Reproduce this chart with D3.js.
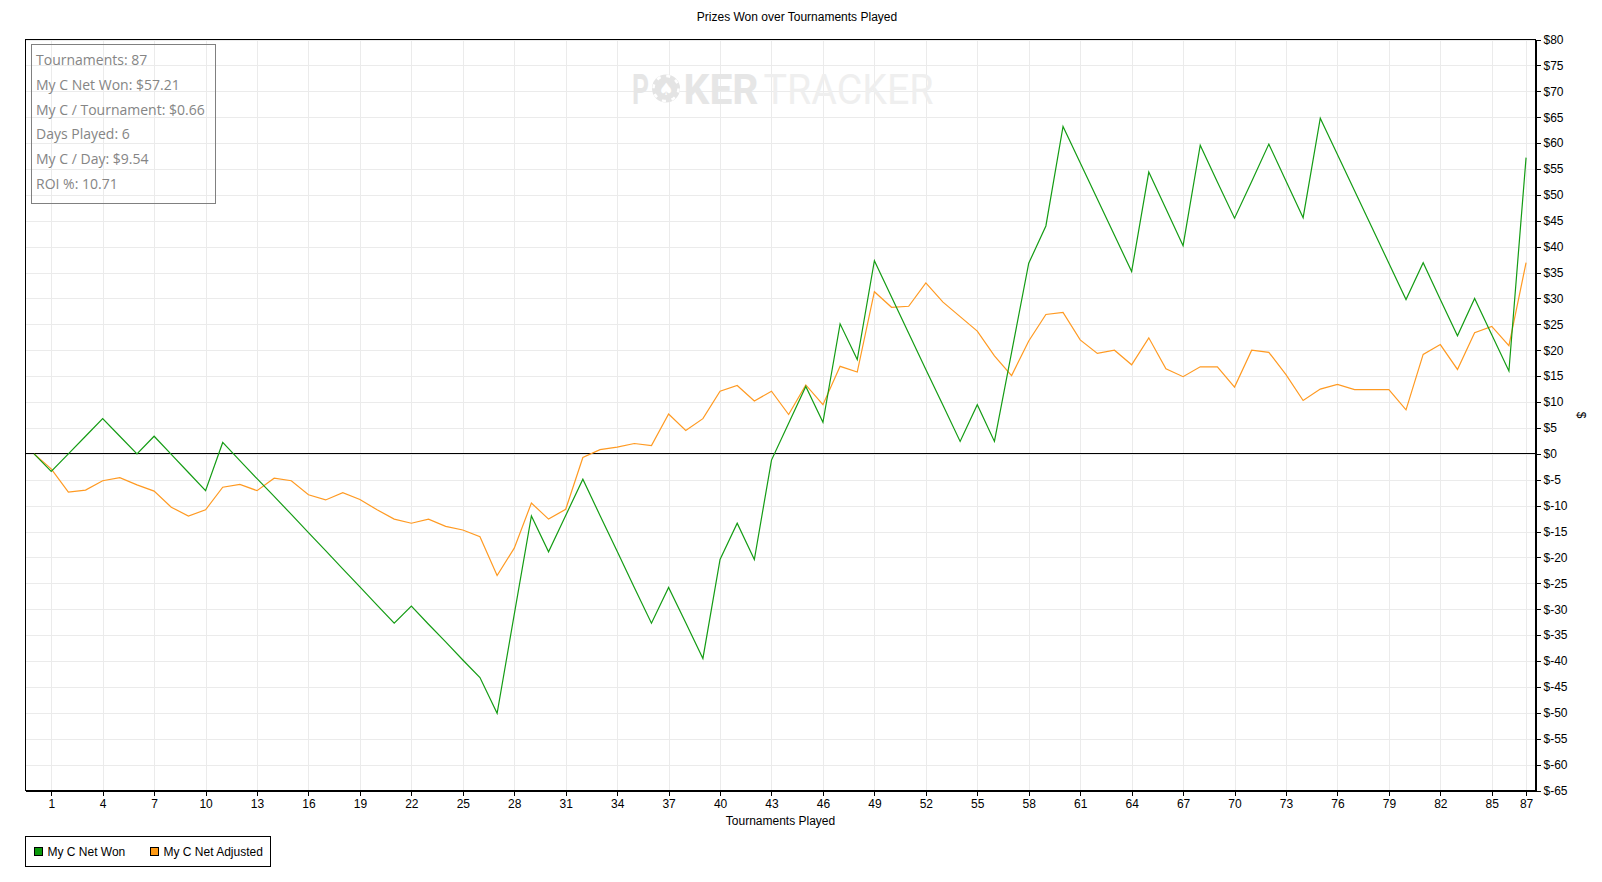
<!DOCTYPE html>
<html>
<head>
<meta charset="utf-8">
<script src="https://cdn.jsdelivr.net/npm/d3@7"></script>
<style>
  body { margin: 0; background: #fff; }
  svg { display: block; }
  .axis text { font-family: "Liberation Sans", Arial, sans-serif; font-size: 12px; fill: #000; }
  .axis path, .axis line { stroke: #000; shape-rendering: crispEdges; }
  .grid line { stroke: #ebebeb; shape-rendering: crispEdges; }
  .grid path { display: none; }
</style>
</head>
<body>
<div id="chart"></div>
<script>
// tournament index = position in the arrays (0..87)
var netWon = [0, -3.4, 0.0, 3.4, 6.8, 3.4, 0.0, 3.4, -0.1, -3.6, -7.1,
    2.2, -1.3, -4.8, -8.2, -11.7, -15.2, -18.7, -22.2, -25.7, -29.2, -32.7,
    -29.4, -32.9, -36.3, -39.8, -43.2, -50.1, -31.0, -12.0, -18.9, -11.9, -4.9,
    -11.9, -18.8, -25.8, -32.7, -25.8, -32.6, -39.5, -20.4, -13.4, -20.4, -1.2,
    5.9, 13.0, 6.1, 25.1, 18.2, 37.3, 30.3, 23.3, 16.3, 9.4, 2.4,
    9.5, 2.4, 19.6, 36.8, 44.0, 63.2, 56.2, 49.2, 42.2, 35.2, 54.4,
    47.3, 40.2, 59.6, 52.5, 45.5, 52.6, 59.8, 52.7, 45.6, 64.8, 57.8,
    50.8, 43.8, 36.8, 29.8, 36.9, 29.8, 22.8, 30.0, 23.0, 16.0, 57.2];

var netAdjusted = [0, -2.9, -7.4, -7.0, -5.2, -4.6, -6.0, -7.2, -10.3, -12.0, -10.8,
    -6.45, -5.9, -7.1, -4.7, -5.2, -7.9, -8.9, -7.5, -8.8, -10.8, -12.6,
    -13.4, -12.6, -14.0, -14.7, -16.0, -23.5, -18.2, -9.5, -12.6, -10.7, -0.7,
    0.8, 1.3, 2.0, 1.6, 7.7, 4.5, 6.8, 12.1, 13.2, 10.2, 12.1,
    7.6, 13.3, 9.5, 16.9, 15.8, 31.3, 28.3, 28.5, 33.0, 29.3, 26.5,
    23.7, 18.9, 15.1, 21.8, 26.9, 27.3, 22.0, 19.4, 20.0, 17.2, 22.4,
    16.4, 14.9, 16.8, 16.8, 12.9, 20.0, 19.6, 15.3, 10.3, 12.5, 13.4,
    12.4, 12.4, 12.4, 8.5, 19.2, 21.1, 16.3, 23.4, 24.6, 20.9, 36.9];

var xTicks = [1, 4, 7, 10, 13, 16, 19, 22, 25, 28, 31, 34, 37, 40, 43, 46, 49,
    52, 55, 58, 61, 64, 67, 70, 73, 76, 79, 82, 85, 87];
var yTicks = [-65, -60, -55, -50, -45, -40, -35, -30, -25, -20, -15, -10, -5, 0,
    5, 10, 15, 20, 25, 30, 35, 40, 45, 50, 55, 60, 65, 70, 75, 80];

var statLines = ["Tournaments: 87", "My C Net Won: $57.21", "My C / Tournament: $0.66",
    "Days Played: 6", "My C / Day: $9.54", "ROI %: 10.71"];

var seriesNames = ["My C Net Won", "My C Net Adjusted"];
var seriesColors = ["#149c14", "#ff9a22"];

var svgWidth = 1602, svgHeight = 882;
var margin = {top: 39.5, left: 25.5},
    width = 1510,
    height = 751;

var svg = d3.select("#chart").append("svg")
    .attr("width", svgWidth)
    .attr("height", svgHeight)

var x = d3.scaleLinear()
    .domain([-0.5, 87.55])
    .range([0, width]);

var y = d3.scaleLinear()
    .domain([-65, 80])
    .range([height, 0]);

var dollar = v => v < 0 ? "$-" + Math.abs(v) : "$" + v;

// title
svg.append("text")
    .attr("x", 797)
    .attr("y", 21)
    .attr("text-anchor", "middle")
    .style("font-family", "Liberation Sans, Arial, sans-serif")
    .style("font-size", "12px")
    .text("Prizes Won over Tournaments Played")

var plot = svg.append("g")
    .attr("transform", `translate(${margin.left}, ${margin.top})`)

// grid
plot.append("g")
    .attr("class", "grid")
    .call(d3.axisLeft(y).tickValues(yTicks).tickSize(-width).tickFormat(""))

plot.append("g")
    .attr("class", "grid")
    .attr("transform", `translate(0, ${height})`)
    .call(d3.axisBottom(x).tickValues(xTicks).tickSize(-height).tickFormat(""))

// watermark
var wm = plot.append("g")
var wmY = 103.5 - margin.top
wm.append("text")
    .attr("x", 606.5).attr("y", wmY)
    .attr("textLength", 17).attr("lengthAdjust", "spacingAndGlyphs")
    .style("font-family", "Roboto").style("font-weight", "bold").style("font-size", "42px")
    .attr("fill", "#e6e6e6")
    .text("P")
var chip = wm.append("g").attr("transform", `translate(640.5, ${88.5 - margin.top})`)
chip.append("circle").attr("r", 14).attr("fill", "#e4e4e4")
chip.append("circle").attr("r", 12.5).attr("fill", "none")
    .attr("stroke", "#fff").attr("stroke-width", 2.5).attr("stroke-dasharray", "4 5.8")
chip.append("text")
    .attr("text-anchor", "middle").attr("y", 6)
    .style("font-family", "DejaVu Sans").style("font-size", "17px")
    .attr("fill", "#fff")
    .text("♠")
wm.append("text")
    .attr("x", 658).attr("y", wmY)
    .attr("textLength", 75).attr("lengthAdjust", "spacingAndGlyphs")
    .style("font-family", "Roboto").style("font-weight", "bold").style("font-size", "42px")
    .attr("fill", "#e6e6e6")
    .text("KER")
wm.append("text")
    .attr("x", 738).attr("y", wmY)
    .attr("textLength", 170).attr("lengthAdjust", "spacingAndGlyphs")
    .style("font-family", "Roboto").style("font-size", "42px")
    .attr("fill", "#efefef")
    .text("TRACKER")

// zero line (group is already offset by half a pixel)
plot.append("line")
    .attr("x1", 0).attr("x2", width)
    .attr("y1", Math.round(y(0))).attr("y2", Math.round(y(0)))
    .attr("stroke", "#000")

// series
var line = d3.line()
    .x((d, i) => x(i))
    .y(d => y(d))

plot.append("path")
    .datum(netAdjusted)
    .attr("fill", "none")
    .attr("stroke", seriesColors[1])
    .attr("stroke-width", 1.2)
    .attr("d", line)

plot.append("path")
    .datum(netWon)
    .attr("fill", "none")
    .attr("stroke", seriesColors[0])
    .attr("stroke-width", 1.2)
    .attr("d", line)

// border
plot.append("rect")
    .attr("width", width)
    .attr("height", height)
    .attr("fill", "none")
    .attr("stroke", "#000")
    .style("shape-rendering", "crispEdges")

// axes
plot.append("g")
    .attr("class", "x axis")
    .attr("transform", `translate(0, ${height})`)
    .call(d3.axisBottom(x).tickValues(xTicks).tickSize(5).tickSizeOuter(0).tickPadding(4))

plot.append("g")
    .attr("class", "y axis")
    .attr("transform", `translate(${width}, 0)`)
    .call(d3.axisRight(y).tickValues(yTicks).tickSize(5).tickSizeOuter(0).tickPadding(3).tickFormat(dollar))

svg.append("text")
    .attr("transform", `translate(1577, ${margin.top + height / 2}) rotate(90)`)
    .attr("text-anchor", "middle")
    .style("font-family", "Liberation Sans, Arial, sans-serif")
    .style("font-size", "12px")
    .text("$")

svg.append("text")
    .attr("x", margin.left + width / 2)
    .attr("y", 825)
    .attr("text-anchor", "middle")
    .style("font-family", "Liberation Sans, Arial, sans-serif")
    .style("font-size", "12px")
    .text("Tournaments Played")

// stats box
var stats = svg.append("g")
stats.append("rect")
    .attr("x", 31.5).attr("y", 44.5)
    .attr("width", 184).attr("height", 159)
    .attr("fill", "none")
    .attr("stroke", "#808080")
    .attr("stroke-width", 1)

stats.selectAll("text")
    .data(statLines)
    .enter().append("text")
    .attr("x", 36)
    .attr("y", (d, i) => 65 + i * 24.8)
    .style("font-family", "Open Sans, sans-serif")
    .style("font-size", "14px")
    .attr("fill", "#858585")
    .text(d => d)

// legend
var legend = svg.append("g")
legend.append("rect")
    .attr("x", 25.5).attr("y", 836.5)
    .attr("width", 245).attr("height", 30)
    .attr("fill", "#fff")
    .attr("stroke", "#000")

var legendX = [34.5, 150.5]
seriesNames.forEach((name, i) => {
    legend.append("rect")
        .attr("x", legendX[i]).attr("y", 847.5)
        .attr("width", 8).attr("height", 8)
        .attr("fill", i == 0 ? "#0a990a" : "#ff9a14")
        .attr("stroke", "#000")
    legend.append("text")
        .attr("x", legendX[i] + 13)
        .attr("y", 856)
        .style("font-family", "Liberation Sans, Arial, sans-serif")
        .style("font-size", "12px")
        .text(name)
})
</script>
</body>
</html>
